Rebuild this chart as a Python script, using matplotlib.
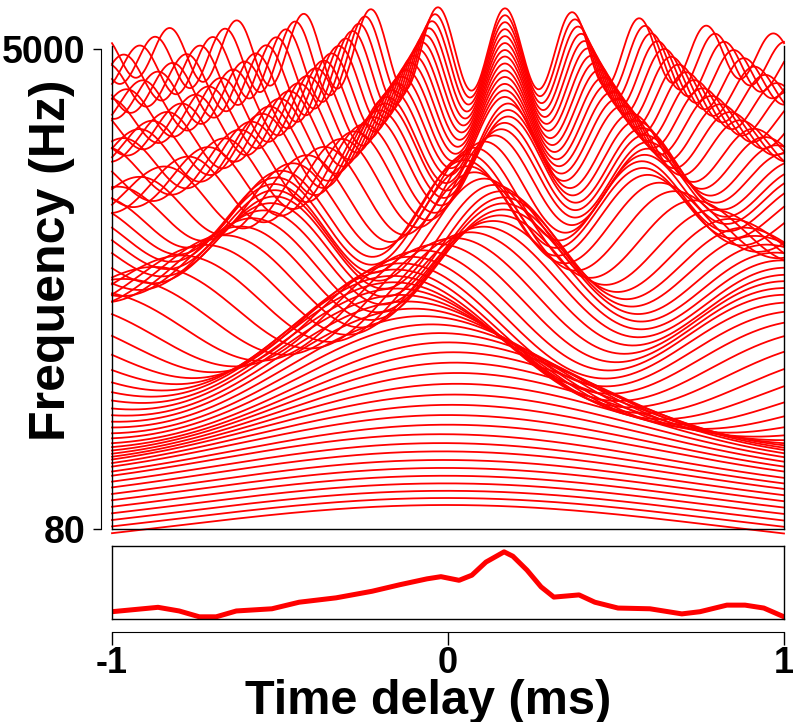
import numpy as np
import matplotlib.pyplot as plt

# channel centre frequencies (Hz), bottom to top, one per curve
freqs = [80, 93, 106, 120, 135, 150, 166, 183, 200, 218,
         237, 256, 276, 297, 319, 342, 366, 391, 417, 444,
         472, 502, 532, 564, 597, 632, 668, 705, 745, 785,
         828, 872, 918, 966, 1016, 1068, 1123, 1179, 1238, 1300,
         1364, 1430, 1500, 1572, 1648, 1726, 1808, 1893, 1982, 2075,
         2171, 2271, 2376, 2485, 2599, 2717, 2840, 2969, 3103, 3242,
         3387, 3539, 3697, 3861, 4032, 4210, 4396, 4590, 4792, 5000]

# best delay of each channel (ms)
best_delay = ([-0.05] * 10
              + [0.00, 0.00, 0.02, 0.03, 0.04, 0.04, 0.03, 0.02, 0.00, -0.03]
              + [-0.06, -0.09, -0.12, -0.14, -0.16, -0.17, -0.18, -0.18, -0.17, -0.15]
              + [-0.12, -0.08, -0.03, 0.02, 0.07, 0.11, 0.14, 0.16, 0.17, 0.17]
              + [0.17, 0.16, 0.14, 0.11, 0.08, 0.06, 0.05, 0.06, 0.08, 0.11]
              + [0.14, 0.16, 0.17, 0.18, 0.18, 0.18, 0.17, 0.17, 0.17, 0.17]
              + [0.17] * 10)

# dc and periodic parts of each channel's correlation
dc_part = [0.62, 0.61, 0.61, 0.60, 0.60, 0.59, 0.59, 0.58, 0.58, 0.57,
           0.57, 0.56, 0.56, 0.55, 0.55, 0.54, 0.54, 0.53, 0.53, 0.52,
           0.52, 0.51, 0.51, 0.50, 0.50, 0.49, 0.49, 0.48, 0.48, 0.47,
           0.47, 0.46, 0.46, 0.45, 0.45, 0.44, 0.44, 0.43, 0.43, 0.42,
           0.42, 0.41, 0.41, 0.40, 0.40, 0.39, 0.39, 0.38, 0.38, 0.37,
           0.37, 0.36, 0.36, 0.35, 0.35, 0.34, 0.34, 0.33, 0.33, 0.32,
           0.32, 0.31, 0.31, 0.30, 0.30, 0.29, 0.29, 0.28, 0.28, 0.27]
ac_part = [0.50, 0.50, 0.51, 0.52, 0.53, 0.55, 0.57, 0.60, 0.63, 0.67,
           0.72, 0.78, 0.85, 0.92, 1.00, 1.08, 1.15, 1.22, 1.28, 1.33,
           1.37, 1.40, 1.42, 1.43, 1.43, 1.42, 1.41, 1.40, 1.38, 1.36,
           1.34, 1.32, 1.30, 1.28, 1.26, 1.24, 1.22, 1.20, 1.18, 1.16,
           1.14, 1.12, 1.10, 1.08, 1.06, 1.04, 1.02, 1.00, 0.99, 0.98,
           0.97, 0.96, 0.95, 0.94, 0.93, 0.92, 0.91, 0.90, 0.89, 0.89,
           0.88, 0.88, 0.88, 0.87, 0.87, 0.87, 0.87, 0.87, 0.87, 0.87]

# summary (across-frequency) curve
sum_delay = [-1.0, -0.863, -0.80, -0.74, -0.69, -0.63, -0.524, -0.443, -0.333, -0.226,
             -0.143, -0.0625, -0.021, 0.033, 0.071, 0.113, 0.167, 0.193, 0.235, 0.277,
             0.315, 0.39, 0.437, 0.506, 0.601, 0.696, 0.75, 0.83, 0.884, 0.94, 1.0]
sum_value = [0.10, 0.16, 0.11, 0.03, 0.03, 0.11, 0.14, 0.23, 0.29, 0.38,
             0.47, 0.55, 0.58, 0.53, 0.60, 0.78, 0.92, 0.86, 0.67, 0.44,
             0.30, 0.33, 0.23, 0.15, 0.14, 0.07, 0.10, 0.19, 0.19, 0.15, 0.03]

W, H = 794, 722
RED = "#ff0000"
FONT = "Liberation Sans"
WIDTH = 0.85     # ms, centrality weighting


def erb_rate(f):
    return 21.4 * np.log10(4.37 * np.asarray(f) / 1000 + 1)


def frac(x0, y0, x1, y1):
    # pixel box (top-left origin) -> figure fraction rect
    return [x0 / W, 1 - y1 / H, (x1 - x0) / W, (y1 - y0) / H]


fig = plt.figure(figsize=(W / 100, H / 100), dpi=100)
plt.rcParams["font.family"] = FONT
plt.rcParams["font.weight"] = "bold"

lo, hi = erb_rate(80), erb_rate(5000)
px_per_erb = (529 - 49) / (hi - lo)
gain = 48 / px_per_erb   # one correlation unit = 48 px

ax = fig.add_axes(frac(112, 46, 784, 529))
ax.set_xlim(-1, 1)
ax.set_ylim(lo, lo + (529 - 46) / px_per_erb)
ax.spines["top"].set_visible(False)
for s in ["left", "right", "bottom"]:
    ax.spines[s].set_linewidth(1.0)
ax.set_xticks([])
ax.set_yticks([])

tau = np.linspace(-1, 1, 501)
weight = np.exp(-tau ** 2 / (2 * WIDTH ** 2))
for f, d, dc, ac in zip(freqs, best_delay, dc_part, ac_part):
    corr = dc * (weight - 1) + ac * weight * np.cos(2 * np.pi * f * (tau - d) / 1000)
    ax.plot(tau, erb_rate(f) + gain * corr, color=RED, lw=1.3, clip_on=False)

# separate frequency axis
yax = fig.add_axes(frac(101, 49, 102, 529))
yax.set_ylim(lo, hi)
yax.set_xticks([])
for s in ["top", "right", "bottom"]:
    yax.spines[s].set_visible(False)
yax.patch.set_visible(False)
yax.set_yticks([lo, hi])
yax.set_yticklabels(["80", "5000"], fontsize=27, fontweight="bold")
yax.tick_params(axis="y", direction="out", length=6, width=1.0, pad=5)

# summary panel
sax = fig.add_axes(frac(112, 546, 784, 619))
sax.plot(sum_delay, sum_value, color=RED, lw=3.6, solid_joinstyle="round")
sax.set_xlim(-1, 1)
sax.set_ylim(0, 1)
sax.set_xticks([])
sax.set_yticks([])
for s in sax.spines.values():
    s.set_linewidth(1.0)

# separate time-delay axis
xax = fig.add_axes(frac(112, 631, 784, 632))
xax.set_xlim(-1, 1)
xax.set_yticks([])
for s in ["top", "right", "left"]:
    xax.spines[s].set_visible(False)
xax.patch.set_visible(False)
xax.set_xticks([-1, 0, 1])
xax.set_xticklabels(["-1", "0", "1"], fontsize=26, fontweight="bold")
xax.tick_params(axis="x", direction="out", length=9, width=1.0, pad=1)

fig.text(52 / W, 1 - 260 / H, "Frequency (Hz)", rotation=90, ha="center", va="center",
         fontsize=36, fontweight="bold")
fig.text(428 / W, 1 - 701 / H, "Time delay (ms)", ha="center", va="center",
         fontsize=35, fontweight="bold")

fig.savefig("out.png", dpi=100)
